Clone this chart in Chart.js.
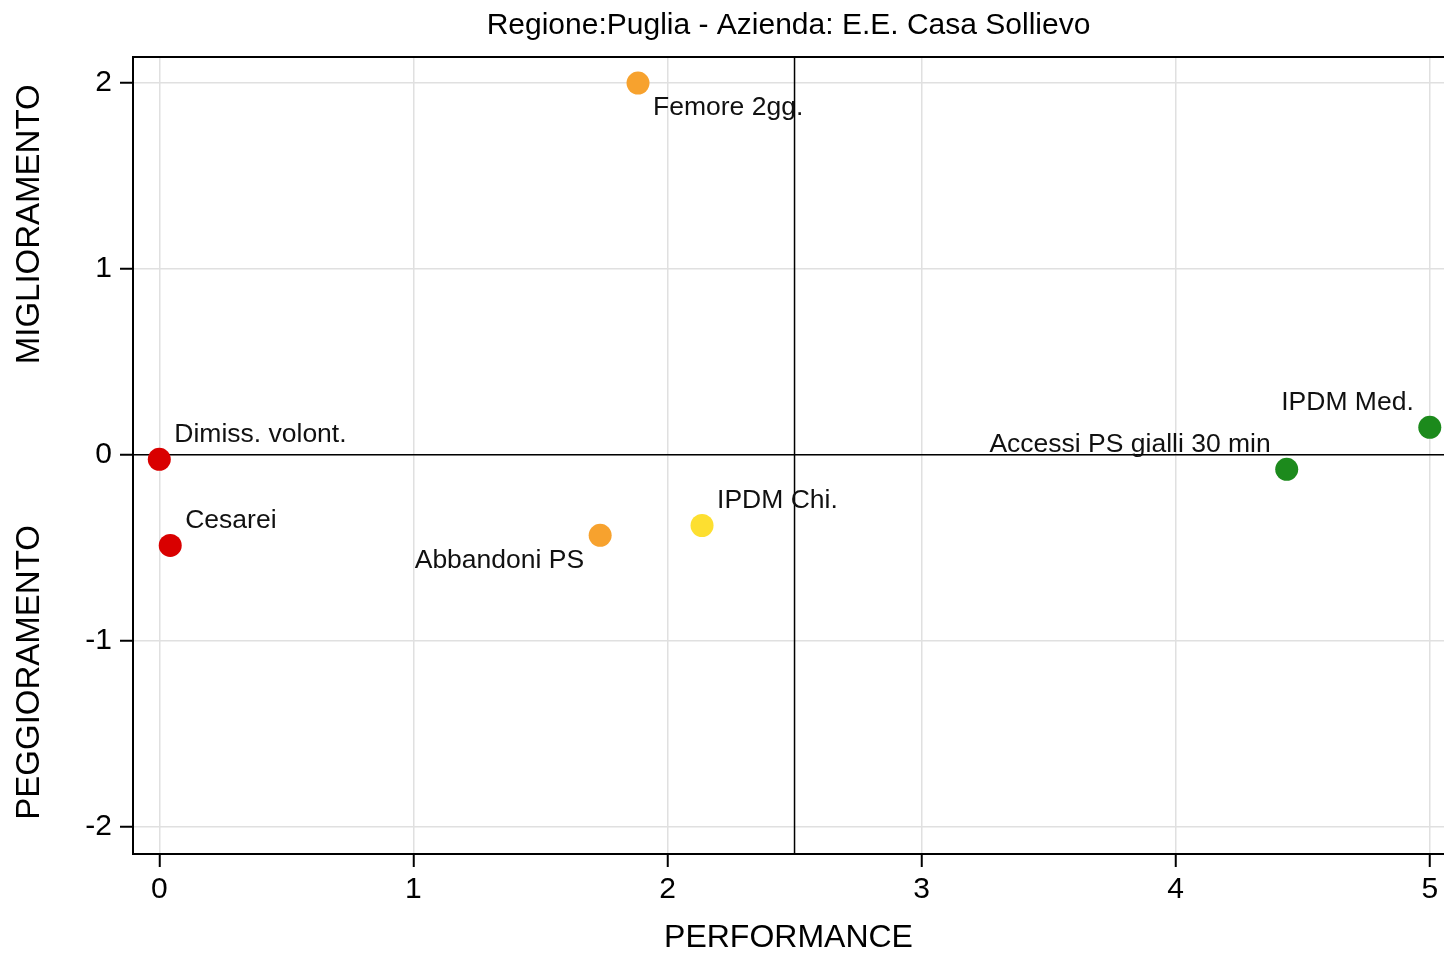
<!DOCTYPE html>
<html>
<head>
<meta charset="utf-8">
<script src="https://cdn.jsdelivr.net/npm/chart.js@4"></script>
<style>
  body { margin: 0; background: #fff; }
  canvas { display: block; }
</style>
</head>
<body>
<canvas id="myChart" width="1444" height="954"></canvas>
<script>
// data
const indicators = ["Femore 2gg.", "Dimiss. volont.", "Cesarei", "Abbandoni PS", "IPDM Chi.", "Accessi PS gialli 30 min", "IPDM Med."];
const performance = [1.884, 0, 0.043, 1.735, 2.136, 4.437, 5.0];
const improvement = [2.0, -0.024, -0.487, -0.433, -0.38, -0.078, 0.148];
const pointColors = ["#f7a22e", "#d90000", "#d90000", "#f7a22e", "#fddf30", "#1c8a1c", "#1c8a1c"];
const xTicks = [0, 1, 2, 3, 4, 5];
const yTicks = [-2, -1, 0, 1, 2];
const refX = 2.5;
const refY = 0;

const chartTitle = "Regione:Puglia - Azienda: E.E. Casa Sollievo";
const xTitle = "PERFORMANCE";
const yTitleTop = "MIGLIORAMENTO";
const yTitleBottom = "PEGGIORAMENTO";

// label clock positions (stata style): 1 up-right, 4 down-right, 7 down-left, 11 up-left
const labelPos = [4, 1, 1, 7, 1, 11, 11];

const FONT = "'Liberation Sans', Helvetica, Arial, sans-serif";

// reference lines + top border
const refLines = {
  id: "refLines",
  beforeDatasetsDraw(chart) {
    const { ctx, chartArea, scales } = chart;
    ctx.save();
    ctx.strokeStyle = "#000";
    ctx.lineWidth = 1.5;
    let px = scales.x.getPixelForValue(refX);
    let py = scales.y.getPixelForValue(refY);
    ctx.beginPath();
    ctx.moveTo(px, chartArea.top);
    ctx.lineTo(px, chartArea.bottom);
    ctx.moveTo(chartArea.left, py);
    ctx.lineTo(chartArea.right, py);
    ctx.stroke();
    ctx.lineWidth = 2;
    ctx.beginPath();
    ctx.moveTo(chartArea.left, chartArea.top);
    ctx.lineTo(chartArea.right, chartArea.top);
    ctx.stroke();
    ctx.restore();
  },
};

// point labels
const pointLabels = {
  id: "pointLabels",
  afterDatasetsDraw(chart) {
    const { ctx } = chart;
    const meta = chart.getDatasetMeta(0);
    ctx.save();
    ctx.font = "26.5px " + FONT;
    ctx.fillStyle = "#111";
    ctx.textBaseline = "middle";
    meta.data.forEach((pt, i) => {
      let pos = labelPos[i];
      let right = pos >= 1 && pos <= 5;
      let up = pos <= 2 || pos >= 10;
      ctx.textAlign = right ? "left" : "right";
      ctx.fillText(indicators[i], pt.x + (right ? 15 : -16), pt.y + (up ? -25 : 25));
    });
    ctx.restore();
  },
};

// titles
const titles = {
  id: "titles",
  afterDraw(chart) {
    const { ctx, chartArea, scales } = chart;
    ctx.save();
    ctx.fillStyle = "#000";
    ctx.textAlign = "center";
    ctx.textBaseline = "middle";
    let cx = (chartArea.left + chartArea.right) / 2;
    ctx.font = "30px " + FONT;
    ctx.fillText(chartTitle, cx, 26);
    ctx.font = "32px " + FONT;
    ctx.fillText(xTitle, cx, 938);
    ctx.font = "33px " + FONT;
    ctx.translate(30, 0);
    ctx.rotate(-Math.PI / 2);
    ctx.fillText(yTitleTop, -scales.y.getPixelForValue(1.24), 0);
    ctx.fillText(yTitleBottom, -scales.y.getPixelForValue(-1.17), 0);
    ctx.restore();
  },
};

const ctx = document.getElementById("myChart");
new Chart(ctx, {
  type: "scatter",
  data: {
    datasets: [
      {
        data: performance.map((v, i) => ({ x: v, y: improvement[i] })),
        backgroundColor: pointColors,
        borderColor: pointColors,
        pointRadius: 11.5,
        pointHoverRadius: 11.5,
        borderWidth: 0,
        clip: false,
      },
    ],
  },
  options: {
    responsive: false,
    animation: false,
    devicePixelRatio: 1,
    layout: { autoPadding: false, padding: { top: 57, left: 0, right: 0, bottom: 0 } },
    plugins: {
      legend: { display: false },
      title: { display: false },
      tooltip: { enabled: false },
    },
    scales: {
      x: {
        type: "linear",
        min: -0.1035,
        max: 5.056,
        afterBuildTicks: (scale) => {
          scale.ticks = xTicks.map((v) => ({ value: v }));
        },
        afterFit: (scale) => {
          scale.height = 100;
          scale.paddingLeft = 0;
          scale.paddingRight = 0;
        },
        grid: {
          color: "#e0e0e0",
          lineWidth: 1.5,
          tickColor: "#000",
          tickWidth: 2,
          tickLength: 13,
        },
        border: { color: "#000", width: 2 },
        ticks: {
          font: { family: FONT, size: 30 },
          color: "#000",
          padding: 5,
          maxRotation: 0,
          callback: (v) => String(v),
        },
      },
      y: {
        type: "linear",
        min: -2.147,
        max: 2.14,
        afterBuildTicks: (scale) => {
          scale.ticks = yTicks.map((v) => ({ value: v }));
        },
        afterFit: (scale) => {
          scale.width = 133;
          scale.paddingTop = 0;
          scale.paddingBottom = 0;
        },
        grid: {
          color: "#e0e0e0",
          lineWidth: 1.5,
          tickColor: "#000",
          tickWidth: 2,
          tickLength: 13,
        },
        border: { color: "#000", width: 2 },
        ticks: {
          font: { family: FONT, size: 30 },
          color: "#000",
          padding: 8,
          callback: (v) => String(v),
        },
      },
    },
  },
  plugins: [refLines, pointLabels, titles],
});
</script>
</body>
</html>
